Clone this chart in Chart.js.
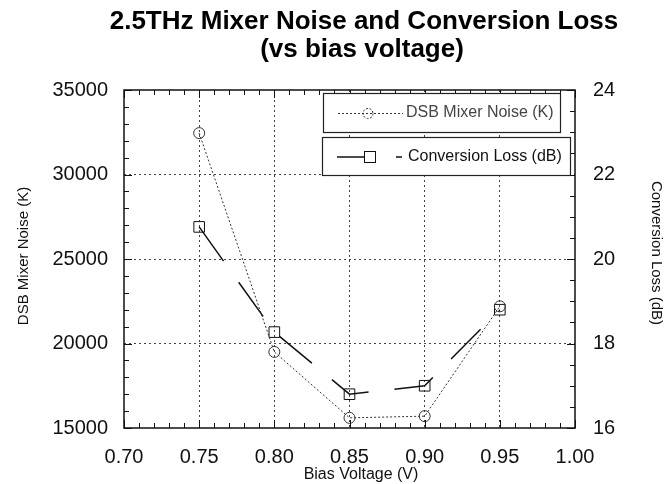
<!DOCTYPE html>
<html>
<head>
<meta charset="utf-8">
<script src="https://cdn.jsdelivr.net/npm/chart.js@4.4.1/dist/chart.umd.min.js"></script>
<style>
  html, body { margin: 0; padding: 0; background: #fff; }
  #wrap { width: 666px; height: 484px; position: relative; }
</style>
</head>
<body>
<div id="wrap"><canvas id="c" width="666" height="484"></canvas></div>
<script>
// ---- data ----
const biasVoltage = [0.75, 0.80, 0.85, 0.90, 0.95];
const mixerNoiseK = [32450, 19500, 15600, 15700, 22200];
const conversionLossDb = [20.76, 18.27, 16.8, 17.0, 18.8];
const xTickValues = [0.70, 0.75, 0.80, 0.85, 0.90, 0.95, 1.00];
const yLeftTicks = [15000, 20000, 25000, 30000, 35000];
const yRightTicks = [16, 18, 20, 22, 24];
const titleLines = ['2.5THz Mixer Noise and Conversion Loss', '(vs bias voltage)'];
const xTitle = 'Bias Voltage (V)';
const yLeftTitle = 'DSB Mixer Noise (K)';
const yRightTitle = 'Conversion Loss (dB)';
const seriesLabels = ['DSB Mixer Noise (K)', 'Conversion Loss (dB)'];

const FONT = "'Liberation Sans', Arial, Helvetica, sans-serif";

const framePlugin = {
  id: 'frame',
  afterDraw(chart) {
    const ctx = chart.ctx;
    const ca = chart.chartArea;
    const xs = chart.scales.x, yl = chart.scales.y, yr = chart.scales.y1;
    ctx.save();
    // plot box
    ctx.strokeStyle = '#111';
    ctx.lineWidth = 1.5;
    ctx.setLineDash([]);
    ctx.strokeRect(ca.left, ca.top, ca.right - ca.left, ca.bottom - ca.top);
    // ticks
    ctx.lineWidth = 1;
    ctx.beginPath();
    for (let i = 70; i <= 100; i++) {
      const px = Math.round(xs.getPixelForValue(i / 100)) + 0.5;
      const len = (i % 5 === 0) ? 8 : 5;
      ctx.moveTo(px, ca.bottom); ctx.lineTo(px, ca.bottom - len);
      ctx.moveTo(px, ca.top); ctx.lineTo(px, ca.top + len);
    }
    for (let v = 15000; v <= 35000; v += 1000) {
      const py = Math.round(yl.getPixelForValue(v)) + 0.5;
      const len = (v % 5000 === 0) ? 8 : 5;
      ctx.moveTo(ca.left, py); ctx.lineTo(ca.left + len, py);
    }
    for (let k = 32; k <= 48; k++) {
      const py = Math.round(yr.getPixelForValue(k / 2)) + 0.5;
      const len = (k % 4 === 0) ? 8 : 5;
      ctx.moveTo(ca.right, py); ctx.lineTo(ca.right - len, py);
    }
    ctx.stroke();

    // legend boxes
    const ds = chart.data.datasets;
    ctx.font = '16px ' + FONT;
    ctx.textBaseline = 'middle';
    ctx.textAlign = 'left';
    // box 1
    ctx.fillStyle = '#fff';
    ctx.fillRect(323, 93, 237, 39);
    ctx.strokeStyle = '#222'; ctx.lineWidth = 1.2;
    ctx.strokeRect(323.5, 93.5, 237, 39);
    ctx.strokeStyle = '#333'; ctx.lineWidth = 1;
    ctx.setLineDash([2, 2]);
    ctx.beginPath(); ctx.moveTo(338, 113.5); ctx.lineTo(403, 113.5); ctx.stroke();
    ctx.setLineDash([2, 1.5]);
    ctx.beginPath(); ctx.arc(368, 113.5, 5, 0, Math.PI * 2); ctx.stroke();
    ctx.setLineDash([]);
    ctx.fillStyle = '#444';
    ctx.fillText(ds[0].label, 406, 113);
    // box 2
    ctx.fillStyle = '#fff';
    ctx.fillRect(322, 137, 248, 38);
    ctx.strokeStyle = '#222'; ctx.lineWidth = 1.2;
    ctx.strokeRect(322.5, 137.5, 248, 38);
    ctx.strokeStyle = '#111'; ctx.lineWidth = 1.5;
    ctx.beginPath(); ctx.moveTo(337, 157); ctx.lineTo(364, 157); ctx.moveTo(396, 157); ctx.lineTo(402, 157); ctx.stroke();
    ctx.lineWidth = 1;
    ctx.fillStyle = '#fff';
    ctx.fillRect(364, 151.5, 11, 11);
    ctx.strokeRect(364.5, 151.5, 11, 11);
    ctx.fillStyle = '#111';
    ctx.fillText(ds[1].label, 408, 157);

    // titles
    ctx.fillStyle = '#000';
    ctx.textAlign = 'center';
    ctx.textBaseline = 'alphabetic';
    ctx.font = 'bold 26px ' + FONT;
    ctx.fillText(titleLines[0], 364, 29);
    ctx.fillText(titleLines[1], 362, 57);
    ctx.font = '16px ' + FONT;
    ctx.fillStyle = '#111';
    ctx.textBaseline = 'middle';
    ctx.fillText(xTitle, 361, 475);
    ctx.font = '15px ' + FONT;
    ctx.save();
    ctx.translate(24, 256); ctx.rotate(-Math.PI / 2);
    ctx.fillText(yLeftTitle, 0, 0);
    ctx.restore();
    ctx.save();
    ctx.translate(656, 253); ctx.rotate(Math.PI / 2);
    ctx.fillText(yRightTitle, 0, 0);
    ctx.restore();
    ctx.restore();
  }
};

const gridColor = (ctx, edgeVals) => {
  const v = ctx.tick ? ctx.tick.value : null;
  if (v === null) return 'rgba(0,0,0,0)';
  if (edgeVals.some(e => Math.abs(e - v) < 1e-9)) return 'rgba(0,0,0,0)';
  return '#444';
};

new Chart(document.getElementById('c'), {
  type: 'line',
  data: {
    datasets: [
      {
        label: seriesLabels[0],
        data: biasVoltage.map((x, i) => ({ x, y: mixerNoiseK[i] })),
        yAxisID: 'y',
        borderColor: '#333',
        borderWidth: 1,
        borderDash: [2, 2],
        pointStyle: 'circle',
        pointRadius: 5.5,
        pointBorderWidth: 1,
        pointBorderColor: '#333',
        pointBackgroundColor: 'rgba(0,0,0,0)',
        tension: 0,
        fill: false
      },
      {
        label: seriesLabels[1],
        data: biasVoltage.map((x, i) => ({ x, y: conversionLossDb[i] })),
        yAxisID: 'y1',
        borderColor: '#111',
        borderWidth: 1.5,
        borderDash: [42, 26],
        pointStyle: 'rect',
        pointRadius: 7.5,
        pointBorderWidth: 1,
        pointBorderColor: '#111',
        pointBackgroundColor: 'rgba(0,0,0,0)',
        tension: 0,
        fill: false
      }
    ]
  },
  options: {
    responsive: false,
    animation: false,
    layout: { padding: { top: 90, left: 0, right: 0, bottom: 0 } },
    plugins: { legend: { display: false }, title: { display: false }, tooltip: { enabled: false } },
    scales: {
      x: {
        type: 'linear',
        min: 0.70, max: 1.00,
        afterBuildTicks: s => { s.ticks = xTickValues.map(v => ({ value: v })); },
        afterFit: s => { s.height = 56; },
        ticks: {
          callback: v => Number(v).toFixed(2),
          font: { family: FONT, size: 20 },
          color: '#111',
          padding: 17,
          maxRotation: 0, autoSkip: false
        },
        grid: { drawTicks: false, color: c => gridColor(c, [0.70, 1.00]), lineWidth: 1 },
        border: { display: false, dash: [2, 3] }
      },
      y: {
        position: 'left',
        min: 15000, max: 35000,
        afterBuildTicks: s => { s.ticks = yLeftTicks.map(v => ({ value: v })); },
        afterFit: s => { s.width = 124; },
        ticks: {
          callback: v => String(v),
          font: { family: FONT, size: 20 },
          color: '#111',
          padding: 16
        },
        grid: { drawTicks: false, color: c => gridColor(c, [15000, 35000]), lineWidth: 1 },
        border: { display: false, dash: [2, 3] }
      },
      y1: {
        position: 'right',
        min: 16, max: 24,
        afterBuildTicks: s => { s.ticks = yRightTicks.map(v => ({ value: v })); },
        afterFit: s => { s.width = 91; },
        ticks: {
          callback: v => String(v),
          font: { family: FONT, size: 20 },
          color: '#111',
          padding: 18
        },
        grid: { drawTicks: false, drawOnChartArea: false },
        border: { display: false }
      }
    }
  },
  plugins: [framePlugin]
});
</script>
</body>
</html>
